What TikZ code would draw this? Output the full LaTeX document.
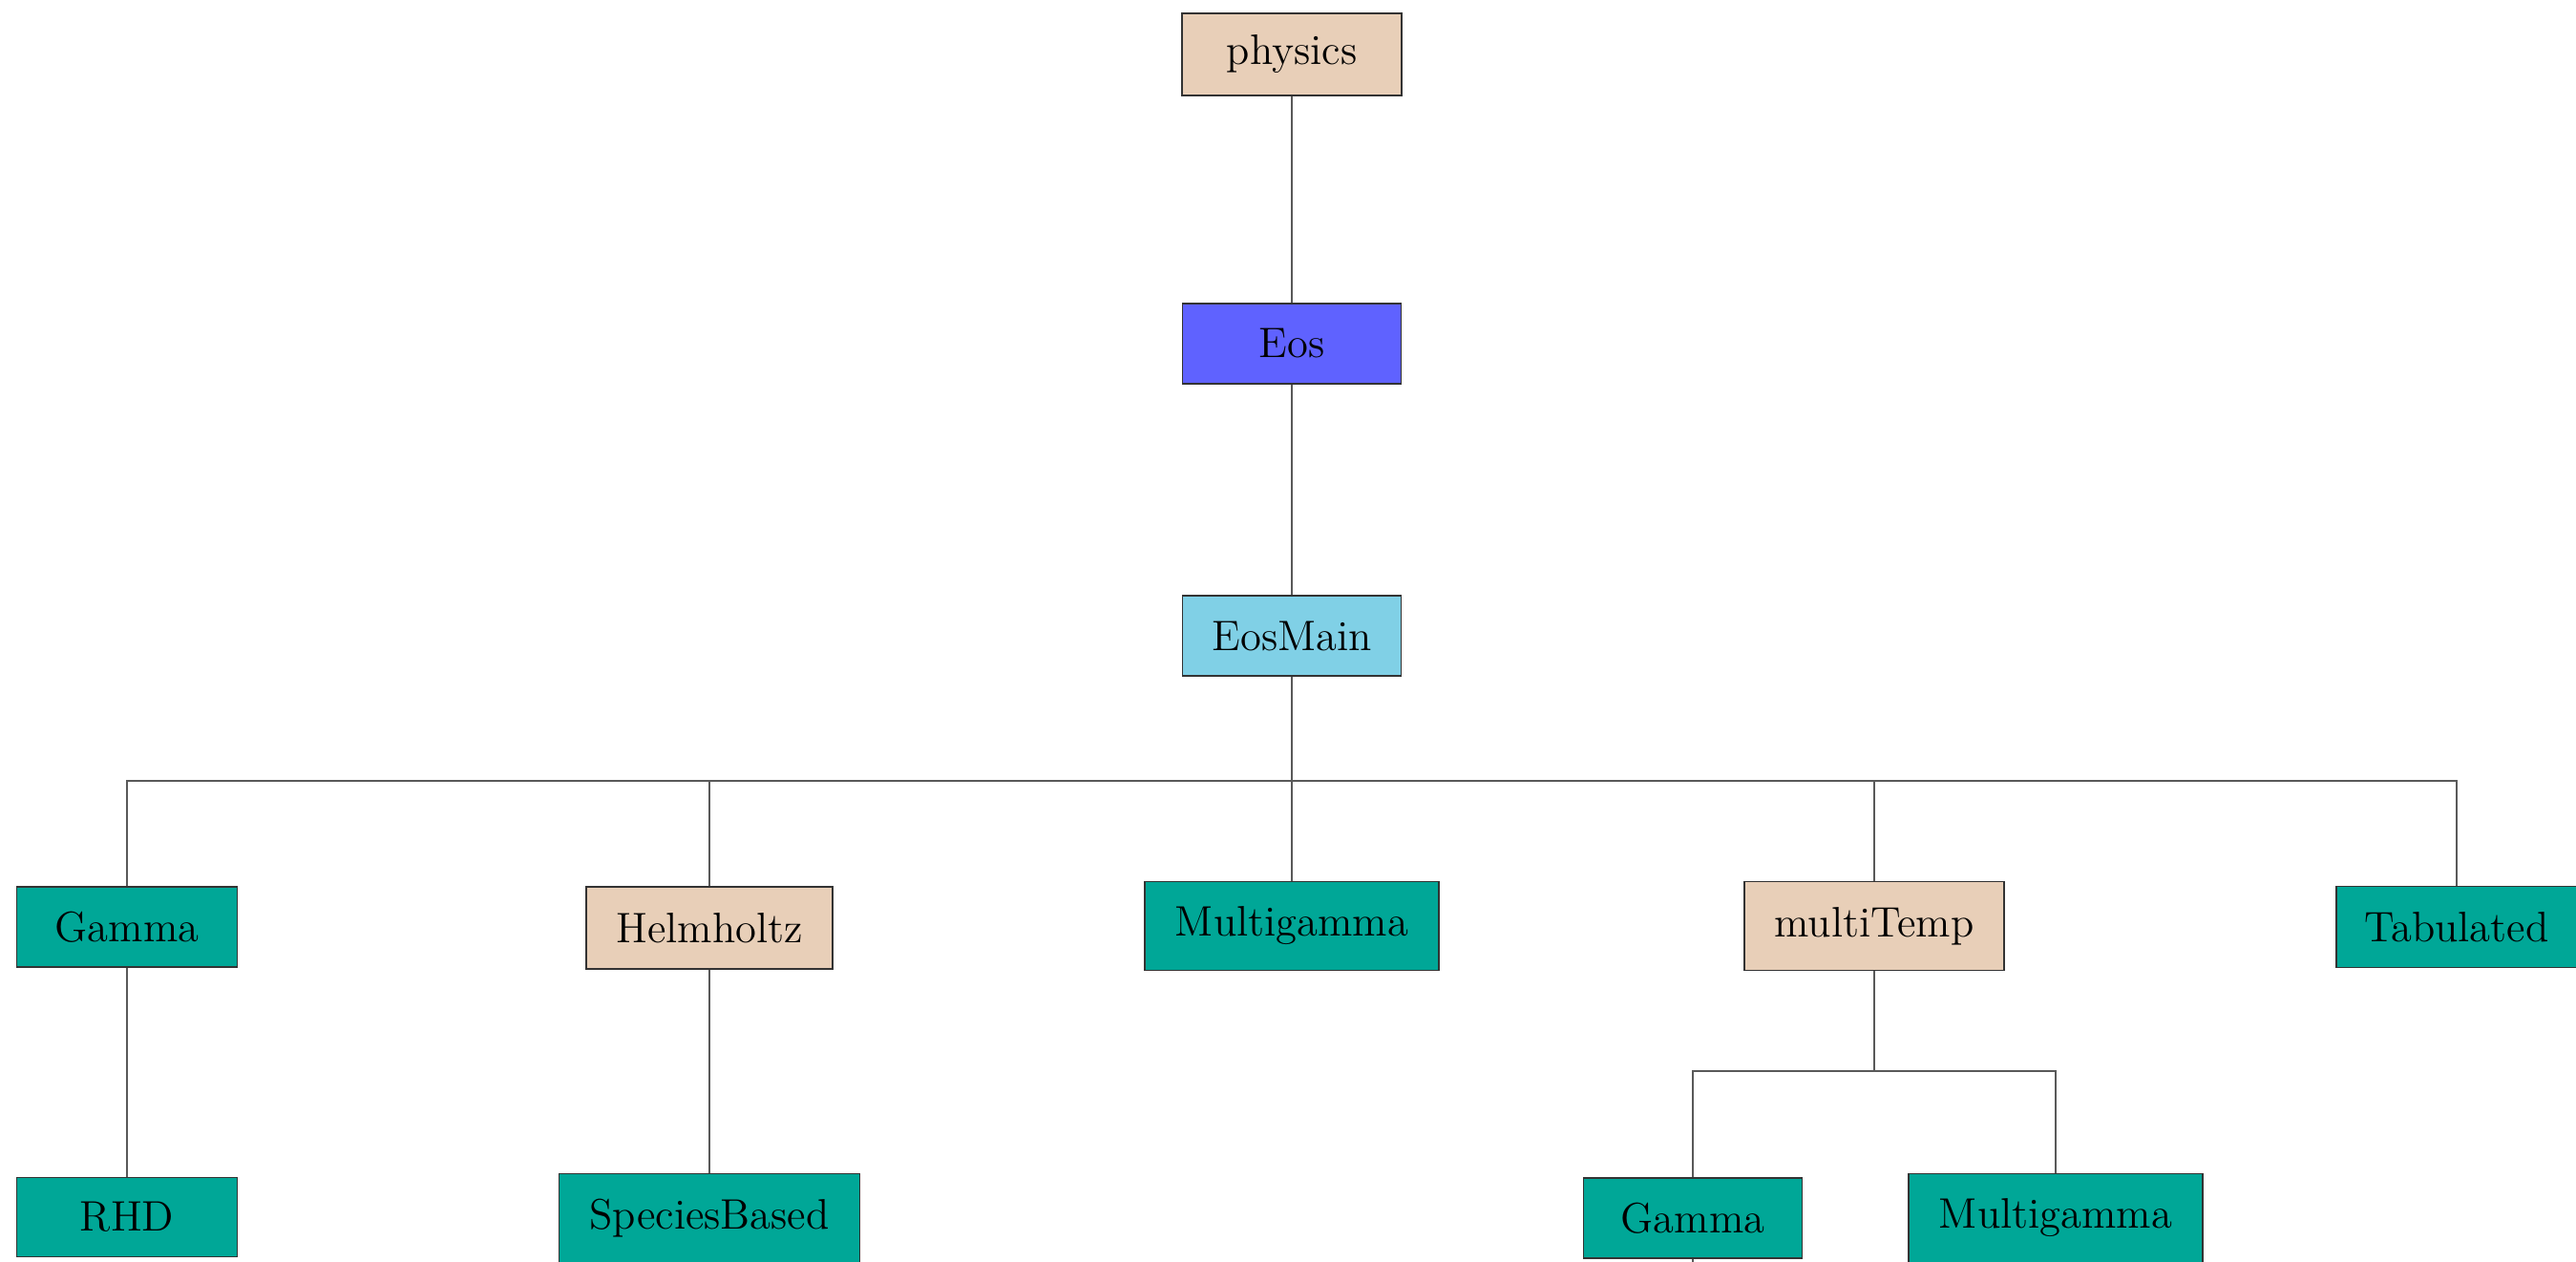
\documentclass[tikz,border=0pt]{standalone}
\usepackage{tikz}

\begin{document}
\begin{tikzpicture}[
  font=\fontsize{12.7}{15}\selectfont,
  cls/.style={draw=black!80, line width=0.45pt, inner sep=0pt, minimum height=0.84cm},
  link/.style={draw=black!65, line width=0.55pt},
]
\definecolor{Pkg}{HTML}{E8CFB8}
\definecolor{EosC}{HTML}{5F62FF}
\definecolor{Main}{HTML}{80D0E6}
\definecolor{Leaf}{HTML}{00A797}

\useasboundingbox (0,0) rectangle (26.98,-13.22);

% ---- trunk ----
\node[cls, fill=Pkg,  minimum width=2.30cm, minimum height=0.86cm] (physics) at (13.53,-0.57) {physics};
\node[cls, fill=EosC, minimum width=2.29cm] (Eos)     at (13.53,-3.60) {Eos};
\node[cls, fill=Main, minimum width=2.29cm] (EosMain) at (13.53,-6.66) {EosMain};

% ---- children of EosMain ----
\node[cls, fill=Leaf, minimum width=2.31cm] (Gamma)      at (1.33,-9.71)  {Gamma};
\node[cls, fill=Pkg,  minimum width=2.58cm, minimum height=0.86cm] (Helmholtz)  at (7.43,-9.72)  {Helmholtz};
\node[cls, fill=Leaf, minimum width=3.08cm, minimum height=0.93cm] (Multigamma) at (13.53,-9.70) {Multigamma};
\node[cls, fill=Pkg,  minimum width=2.72cm, minimum height=0.93cm] (multiTemp)  at (19.63,-9.70) {multiTemp};
\node[cls, fill=Leaf, minimum width=2.52cm, minimum height=0.85cm] (Tabulated)  at (25.73,-9.71) {Tabulated};

% ---- leaves ----
\node[cls, fill=Leaf, minimum width=2.31cm, minimum height=0.83cm] (RHD)          at (1.33,-12.75)  {RHD};
\node[cls, fill=Leaf, minimum width=3.15cm, minimum height=0.93cm] (SpeciesBased) at (7.43,-12.76)  {SpeciesBased};
\node[cls, fill=Leaf, minimum width=2.29cm] (mtGamma)      at (17.73,-12.76) {Gamma};
\node[cls, fill=Leaf, minimum width=3.08cm, minimum height=0.93cm] (mtMultigamma) at (21.53,-12.76) {Multigamma};

% ---- connectors ----
\coordinate (bus)   at (13.53,-8.18);
\coordinate (mtbus) at (19.63,-11.22);
\coordinate (stub)  at (17.73,-13.40);

\draw[link] (physics) -- (Eos);
\draw[link] (Eos) -- (EosMain);
\draw[link] (EosMain) -- (bus);
\foreach \c in {Gamma,Helmholtz,Multigamma,multiTemp,Tabulated}
  \draw[link] (bus) -| (\c.north);
\draw[link] (Gamma) -- (RHD);
\draw[link] (Helmholtz) -- (SpeciesBased);
\draw[link] (multiTemp) -- (mtbus);
\draw[link] (mtbus) -| (mtGamma.north);
\draw[link] (mtbus) -| (mtMultigamma.north);
\draw[link] (mtGamma) -- (stub);
\end{tikzpicture}
\end{document}
